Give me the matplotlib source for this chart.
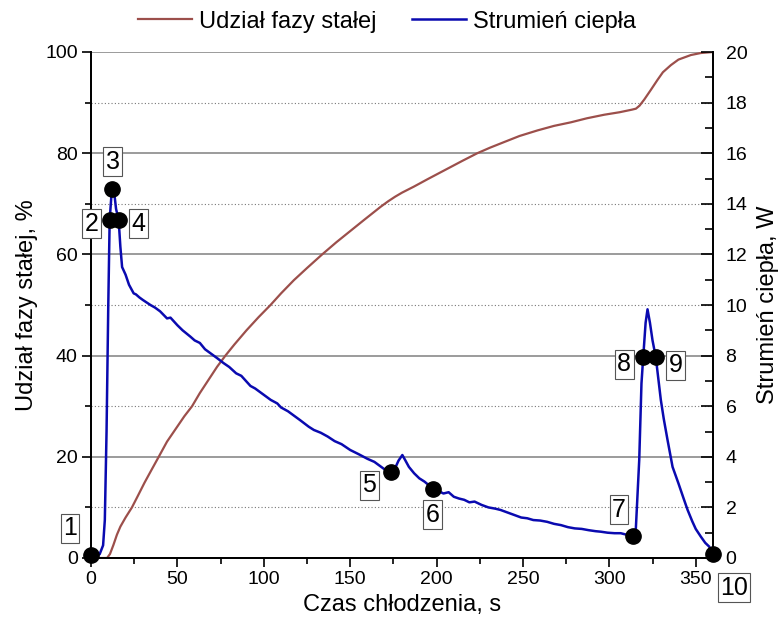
import matplotlib
matplotlib.use("Agg")
import matplotlib.pyplot as plt
from matplotlib.ticker import MultipleLocator

plt.rcParams['font.family'] = ['Liberation Sans', 'DejaVu Sans']

# Solid fraction, % (left axis)
solid_t = [0, 9.3, 11, 13, 15, 17, 20, 23.7, 27, 31, 35, 39.2, 44, 49, 54, 58.5, 63, 68, 73,
           77.8, 83, 90, 97, 103.9, 110, 117.4, 125, 133.8, 142, 150, 158, 167.6, 172, 176,
           180, 186.9, 195, 205, 215, 223.6, 231, 239.1, 248, 258.4, 268, 277.7, 287, 297,
           306, 313, 315.4, 317.5, 320.2, 324, 327.9, 331, 335.6, 340, 347.2, 353, 360]
solid_pct = [0, 0, 0.8, 2.6, 4.6, 6.2, 8.0, 10, 12.2, 14.9, 17.4, 20, 23, 25.5, 28, 30, 32.6,
             35.2, 37.8, 40, 42.2, 45, 47.6, 50, 52.3, 54.9, 57.3, 60, 62.4, 64.6, 66.8, 69.4,
             70.5, 71.4, 72.2, 73.4, 74.9, 76.7, 78.5, 80, 81.1, 82.2, 83.4, 84.5, 85.4, 86.1,
             86.9, 87.6, 88.1, 88.6, 88.8, 89.4, 90.6, 92.5, 94.5, 96.0, 97.4, 98.5, 99.4,
             99.8, 100]

# Heat flux, W (right axis)
flux_t = [0, 3, 5, 7, 8, 9, 10, 10.8, 12.1, 13.5, 14.5, 16, 17, 18, 20, 22, 24.7, 26, 28, 30,
          34.4, 37, 40, 44, 46, 48, 50, 53, 57.5, 60, 63, 66, 70, 73, 76.8, 80, 84, 87, 92.3,
          95, 100, 104, 107.8, 110, 114, 117, 121, 126, 129, 133, 137, 141, 145, 150, 155,
          160, 164, 168, 171, 173.8, 176, 178, 180.2, 182, 184, 187, 190, 193, 196, 198.1,
          201, 204, 207, 210, 213, 216, 219, 222, 226, 230, 234, 237, 241, 245, 249, 252.5,
          256, 260, 264, 268, 272, 276, 280, 284, 288, 292, 295, 299, 303, 306.6, 310, 313.7,
          315.3, 317.3, 318.6, 319.6, 321, 322.1, 323.5, 325, 326.9, 329.8, 331.5, 333.7,
          336.6, 340, 343, 345.3, 348, 350, 353, 355.5, 357.8, 360]
flux_w = [0.1, 0.12, 0.15, 0.5, 1.5, 5.0, 10.0, 13.36, 14.6, 14.4, 13.8, 13.36, 12.3, 11.5,
          11.2, 10.8, 10.46, 10.42, 10.3, 10.2, 10.0, 9.9, 9.75, 9.47, 9.5, 9.35, 9.2, 9.0,
          8.75, 8.6, 8.5, 8.25, 8.05, 7.9, 7.7, 7.55, 7.3, 7.2, 6.8, 6.7, 6.45, 6.25, 6.11,
          5.95, 5.8, 5.65, 5.45, 5.19, 5.06, 4.95, 4.8, 4.62, 4.5, 4.27, 4.1, 3.92, 3.8, 3.6,
          3.45, 3.39, 3.55, 3.85, 4.07, 3.85, 3.6, 3.35, 3.15, 3.02, 2.85, 2.73, 2.65, 2.55,
          2.6, 2.42, 2.35, 2.3, 2.2, 2.23, 2.1, 2.0, 1.95, 1.9, 1.8, 1.7, 1.6, 1.57, 1.5,
          1.48, 1.43, 1.35, 1.3, 1.22, 1.17, 1.15, 1.1, 1.06, 1.04, 1.0, 0.98, 0.98, 0.92,
          0.88, 1.1, 3.87, 6.9, 7.93, 9.3, 9.83, 9.3, 8.6, 7.93, 6.25, 5.5, 4.66, 3.6, 2.95,
          2.35, 1.9, 1.45, 1.15, 0.84, 0.6, 0.45, 0.16]

# Characteristic points (on heat-flux curve)
point_labels = ['1', '2', '3', '4', '5', '6', '7', '8', '9', '10']
point_t = [0, 10.8, 12.1, 16, 173.8, 198.1, 313.7, 319.6, 326.9, 360]
point_w = [0.1, 13.36, 14.6, 13.36, 3.39, 2.73, 0.88, 7.93, 7.93, 0.16]
label_offsets = [(-21, 27), (-18, -4), (1, 27), (20, -4), (-22, -13), (-1, -26),
                 (-14, 26), (-19, -7), (20, -8), (21, -34)]

x_ticks = [0, 50, 100, 150, 200, 250, 300, 350]

brown = '#9c4f4b'
blue = '#0a0ab0'

fig = plt.figure(figsize=(7.82, 6.32), dpi=100)
ax = fig.add_axes([91/782, 1-558/632, 622/782, 506/632])
ax2 = ax.twinx()

l1, = ax.plot(solid_t, solid_pct, color=brown, lw=1.6, label='Udział fazy stałej')
l2, = ax2.plot(flux_t, flux_w, color=blue, lw=1.8, label='Strumień ciepła')
ax2.plot(point_t, point_w, 'o', color='black', ms=11, clip_on=False, zorder=5)

for lab, t, w, off in zip(point_labels, point_t, point_w, label_offsets):
    ax2.annotate(lab, (t, w), xytext=off, textcoords='offset pixels', ha='center',
                 va='center', fontsize=18, annotation_clip=False, zorder=6,
                 bbox=dict(boxstyle='square,pad=0.1', fc='white', ec='#555555', lw=0.8))

ax.set_xlim(0, 360)
ax.set_ylim(0, 100)
ax2.set_ylim(0, 20)
ax.set_xticks(x_ticks)
ax.xaxis.set_minor_locator(MultipleLocator(25))
ax.yaxis.set_major_locator(MultipleLocator(20))
ax.yaxis.set_minor_locator(MultipleLocator(10))
ax2.yaxis.set_major_locator(MultipleLocator(2))
ax2.yaxis.set_minor_locator(MultipleLocator(1))

ax.grid(True, which='major', axis='y', color='#808080', lw=1.1, ls='-')
ax.grid(True, which='minor', axis='y', color='#777777', lw=0.8, ls=(0, (1, 2)))
ax.set_axisbelow(True)

for a in (ax, ax2):
    a.spines['top'].set_visible(False)
    for s in a.spines.values():
        s.set_linewidth(1.3)

ax.tick_params(axis='both', which='major', direction='out', length=6.5, width=1.2,
               labelsize=14, pad=3)
ax.tick_params(axis='both', which='minor', direction='out', length=4, width=1.2)
ax.tick_params(axis='y', right=False)
ax2.tick_params(axis='y', which='major', direction='in', length=9, width=1.2,
                labelsize=14, pad=9)
ax2.tick_params(axis='y', which='minor', direction='in', length=5.5, width=1.2)

ax.set_xlabel('Czas chłodzenia, s', fontsize=17, labelpad=4)
ax.set_ylabel('Udział fazy stałej, %', fontsize=17)
ax2.set_ylabel('Strumień ciepła, W', fontsize=17, rotation=90)
ax.yaxis.set_label_coords(-0.085, 0.5)
ax2.yaxis.set_label_coords(1.07, 0.5)

fig.legend(handles=[l1, l2], loc='center', bbox_to_anchor=(387/782, 1-21.7/632),
           ncol=2, frameon=False, fontsize=17, handlelength=2.3, handletextpad=0.3,
           columnspacing=1.5)

fig.savefig('out.png', dpi=100)
